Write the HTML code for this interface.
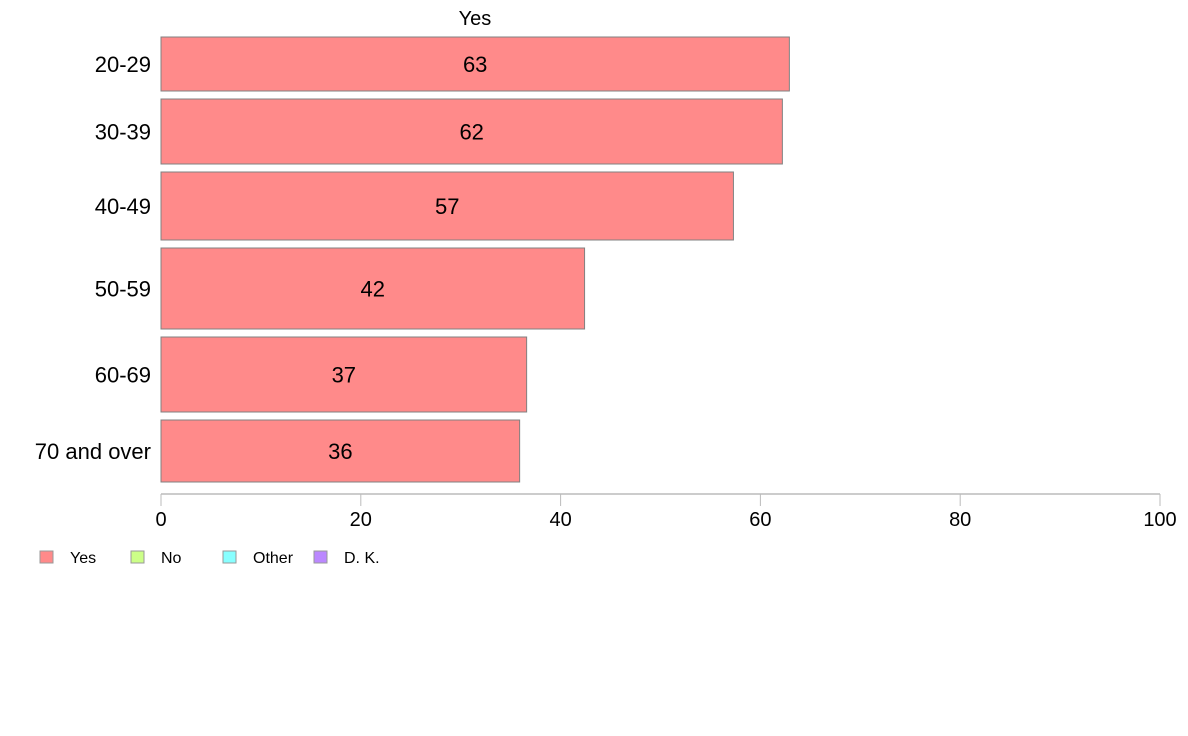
<!DOCTYPE html>
<html><head><meta charset="utf-8"><style>
html,body{margin:0;padding:0;background:#fff}
svg{display:block;font-family:"Liberation Sans",Arial,sans-serif}
</style></head><body>
<svg id="chart" width="1188" height="736"></svg>
<script>
const categories=["20-29","30-39","40-49","50-59","60-69","70 and over"];
const yesValues=[62.9,62.2,57.3,42.4,36.6,35.9];
const valueLabels=["63","62","57","42","37","36"];
const tickValues=[0,20,40,60,80,100];
const legendLabels=["Yes","No","Other","D. K."];
const legendColors=["#ff8a8a","#ccff88","#88ffff","#bb88ff"];
// layout (band extents in pixels)
const bandTop=[37,99,172,248,337,420];
const bandBottom=[91,164,240,329,412,482];
const NS="http://www.w3.org/2000/svg";
const svg=document.getElementById('chart');
const x0=161,x1=1160;
function xs(v){return x0+(v/100)*(x1-x0);}
function mk(t,a,p){const e=document.createElementNS(NS,t);for(const k in a)e.setAttribute(k,a[k]);(p||svg).appendChild(e);return e;}
const title=mk('text',{x:475,y:25,'font-size':20,'text-anchor':'middle'});
title.textContent="Yes";


categories.forEach((c,i)=>{
  const r=mk('rect',{x:xs(0),y:bandTop[i],width:xs(yesValues[i])-xs(0),height:bandBottom[i]-bandTop[i],fill:'#ff8a8a',stroke:'#808080','stroke-width':1});
  
  
  const cy=(bandTop[i]+bandBottom[i])/2;
  const v=mk('text',{x:(xs(0)+xs(yesValues[i]))/2,y:cy+8,'font-size':22,'text-anchor':'middle'});
  v.textContent=valueLabels[i];
  
  
  const l=mk('text',{x:151,y:cy+8,'font-size':22,'text-anchor':'end'});
  l.textContent=c;
  
  
});
const ax=mk('line',{x1:x0,y1:494,x2:x1,y2:494,stroke:'#999','stroke-width':1});


tickValues.forEach(t=>{
  const tk=mk('line',{x1:xs(t),y1:494,x2:xs(t),y2:506,stroke:'#bbb','stroke-width':1});
  
  
  const tl=mk('text',{x:xs(t),y:526,'font-size':20,'text-anchor':'middle'});
  tl.textContent=String(t);
  
  
});
const lx=[40,131,223,314];
legendLabels.forEach((n,i)=>{
  const s=mk('rect',{x:lx[i],y:551,width:13,height:12,fill:legendColors[i],stroke:'#999','stroke-width':1});
  
  
  const t=mk('text',{x:lx[i]+30,y:563,'font-size':16});
  t.textContent=n;
  
  
});
</script>
</body></html>
